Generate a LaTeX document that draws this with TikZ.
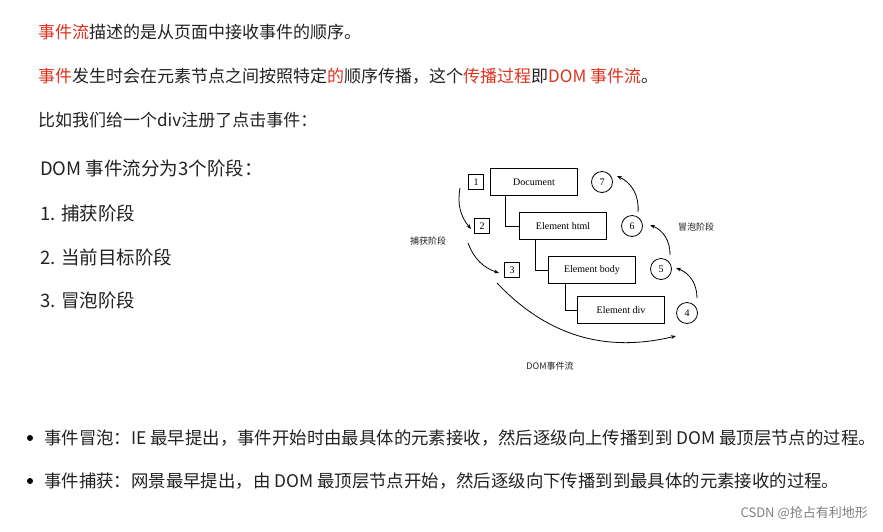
\documentclass[tikz,border=0pt]{standalone}
\usepackage{fontspec}
\setmainfont{Liberation Serif}
\newfontfamily\cjk{Noto Sans CJK SC}
\usetikzlibrary{arrows.meta}
\definecolor{hl}{HTML}{E0321E}
\definecolor{tx}{HTML}{222222}
\begin{document}
\begin{tikzpicture}[x=1pt,y=-1pt,
  para/.style={anchor=base west,inner sep=0,text=tx,font=\cjk\fontsize{17}{19}\selectfont},
  bul/.style={anchor=base west,inner sep=0,text=tx,font=\cjk\fontsize{17.4}{19}\selectfont},
  big/.style={anchor=base west,inner sep=0,text=tx,font=\cjk\fontsize{18.5}{21}\selectfont},
  el/.style={draw,thick,minimum width=87,minimum height=27,font=\fontsize{10}{11}\selectfont},
  sq/.style={draw,thick,minimum size=15,inner sep=0,font=\fontsize{10}{11}\selectfont},
  ci/.style={draw,thick,circle,minimum size=21,inner sep=0,font=\fontsize{10}{11}\selectfont},
  lab/.style={inner sep=0,font=\cjk\fontsize{9}{10}\selectfont,text=tx},
  arr/.style={-{Stealth[length=5pt]},thick}]
\useasboundingbox[fill=white] (0,0) rectangle (883,531);
\node[para] (l1) at (38,38) {\textcolor{hl}{事件流}描述的是从页面中接收事件的顺序。};
\node[para] (l2) at (38,82) {\textcolor{hl}{事件}发生时会在元素节点之间按照特定\textcolor{hl}{的}顺序传播，这个\textcolor{hl}{传播过程}即\textcolor{hl}{DOM 事件流}。};
\node[para] (l3) at (38,126) {比如我们给一个div注册了点击事件：};
\node[big] (p0) at (40,175) {DOM 事件流分为3个阶段：};
\node[big] (p1) at (40,220) {1. 捕获阶段};
\node[big] (p2) at (40,264) {2. 当前目标阶段};
\node[big] (p3) at (40,307) {3. 冒泡阶段};

\node[el] (doc) at (534,182) {Document};
\node[el] (html) at (563,226) {Element html};
\node[el] (body) at (592,270) {Element body};
\node[el] (div) at (621,310) {Element div};
\draw[thick] (505,195.5) |- (html.west);
\draw[thick] (535,239.5) |- (body.west);
\draw[thick] (565,283.5) |- (div.west);

\node[sq] (s1) at (476,182) {1};
\node[sq] (s2) at (482,226) {2};
\node[sq] (s3) at (512,270) {3};
\node[ci] (c7) at (602,182) {7};
\node[ci] (c6) at (632,226) {6};
\node[ci] (c5) at (661,269) {5};
\node[ci] (c4) at (687,313) {4};

\coordinate (a1) at (460,188); \coordinate (b1) at (471,229);
\coordinate (a2) at (468,243); \coordinate (b2) at (499,273);
\coordinate (a3) at (497,283); \coordinate (b3) at (676,336);
\draw[arr] (a1) to[bend right=25] (b1);
\draw[arr] (a2) to[bend right=25] (b2);
\draw[arr] (a3) to[bend right=30] (b3);
\coordinate (u4) at (697,298); \coordinate (v4) at (676,268);
\coordinate (u5) at (670,255); \coordinate (v5) at (650,225);
\coordinate (u6) at (638,212); \coordinate (v6) at (617,176);
\draw[arr] (u4) to[bend right=35] (v4);
\draw[arr] (u5) to[bend right=35] (v5);
\draw[arr] (u6) to[bend right=35] (v6);

\node[lab] (cap) at (428,241) {捕获阶段};
\node[lab] (bub) at (696,227) {冒泡阶段};
\node[lab] (flow) at (550,366) {DOM事件流};

\fill[black] (30,438) circle (3);
\fill[black] (30,481) circle (3);
\node[bul] (b1t) at (44,444) {事件冒泡：IE 最早提出，事件开始时由最具体的元素接收，然后逐级向上传播到到 DOM 最顶层节点的过程。};
\node[bul] (b2t) at (44,487) {事件捕获：网景最早提出，由 DOM 最顶层节点开始，然后逐级向下传播到到最具体的元素接收的过程。};
\node[anchor=base east,inner sep=0,text=gray,font=\cjk\fontsize{13}{14}\selectfont] (wm) at (868,517) {CSDN @抢占有利地形};
\end{tikzpicture}
\end{document}
